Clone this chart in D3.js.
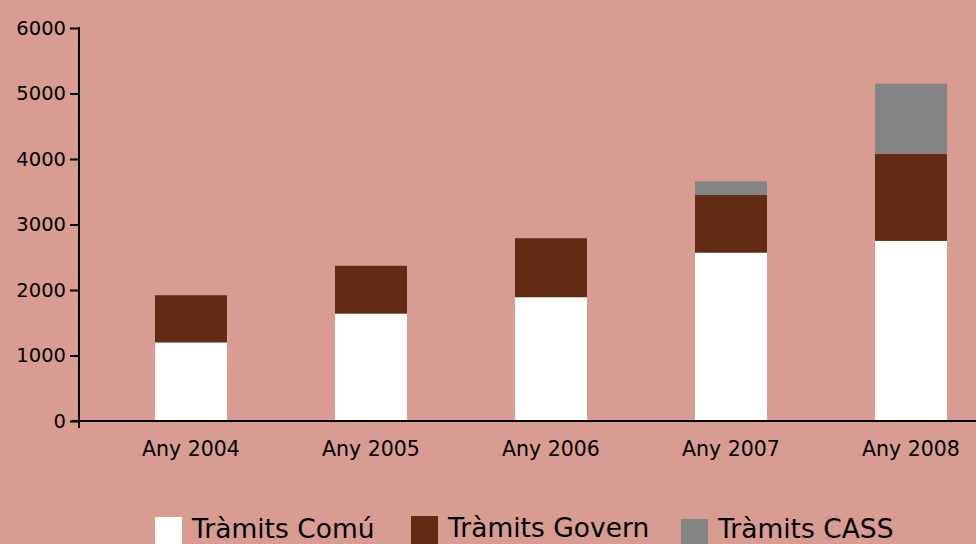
<!DOCTYPE html>
<html>
<head>
<meta charset="utf-8">
<script src="https://cdn.jsdelivr.net/npm/d3@7.9.0/dist/d3.min.js"></script>
<style>
  html, body { margin: 0; padding: 0; background: #d89c92; }
  svg { display: block; font-family: "DejaVu Sans", Verdana, sans-serif; }
</style>
</head>
<body>
<svg id="chart" width="976" height="544"></svg>
<script>
// --- data ---
const years = ['Any 2004', 'Any 2005', 'Any 2006', 'Any 2007', 'Any 2008'];
const comu   = [1200, 1640, 1890, 2570, 2750];
const govern = [720, 730, 900, 880, 1330];
const cass   = [0, 0, 0, 210, 1070];
const seriesNames  = ['Tràmits Comú', 'Tràmits Govern', 'Tràmits CASS'];
const seriesColors = ['#ffffff', '#622c14', '#848484'];
const yTicks = [0, 1000, 2000, 3000, 4000, 5000, 6000];

const svg = d3.select('#chart');
svg.append('rect').attr('width', 976).attr('height', 544).attr('fill', '#d89c92');

const x = d3.scaleBand()
  .domain(years)
  .range([101, 1001])
  .paddingInner(0.6)
  .paddingOuter(0.3);

const y = d3.scaleLinear().domain([0, 6000]).range([421, 28]);

// build rows for stacking
const rows = years.map((yr, i) => ({ year: yr, s0: comu[i], s1: govern[i], s2: cass[i] }));
const stack = d3.stack().keys(['s0', 's1', 's2'])(rows);

svg.append('g')
  .selectAll('g')
  .data(stack)
  .join('g')
  .attr('fill', (d, i) => seriesColors[i])
  .selectAll('rect')
  .data(d => d.filter(p => p[1] > p[0]))
  .join('rect')
  .attr('x', d => x(d.data.year))
  .attr('width', x.bandwidth())
  .attr('y', d => y(d[1]))
  .attr('height', d => y(d[0]) - y(d[1]));

// y axis
const yAxis = svg.append('g')
  .attr('transform', 'translate(79,0)')
  .call(d3.axisLeft(y).tickValues(yTicks).tickFormat(d3.format('d')).tickSize(9).tickPadding(4));
yAxis.select('.domain').remove();
yAxis.selectAll('.tick line').attr('stroke', '#000').attr('stroke-width', 2);
yAxis.selectAll('.tick text')
  .attr('fill', '#000')
  .style('font-size', '19.5px')
  .style('font-family', '"DejaVu Sans", Verdana, sans-serif');

svg.append('line')
  .attr('x1', 79).attr('x2', 79)
  .attr('y1', y(6000) - 1).attr('y2', 428)
  .attr('stroke', '#000').attr('stroke-width', 2);

// x axis
const xAxis = svg.append('g')
  .attr('transform', 'translate(0,421)')
  .call(d3.axisBottom(x).tickSize(0).tickPadding(20));
xAxis.select('.domain').remove();
xAxis.selectAll('.tick text')
  .attr('fill', '#000')
  .style('font-size', '20.5px')
  .style('font-family', '"DejaVu Sans", Verdana, sans-serif');

svg.append('line')
  .attr('x1', 72).attr('x2', 976)
  .attr('y1', 421).attr('y2', 421)
  .attr('stroke', '#000').attr('stroke-width', 2);

// legend
const legendX = [155, 411, 681];
const legendY = [517, 516, 517];
const legend = svg.append('g')
  .selectAll('g')
  .data(seriesNames)
  .join('g')
  .attr('transform', (d, i) => `translate(${legendX[i]},${legendY[i]})`);

legend.append('rect')
  .attr('width', 27).attr('height', 30)
  .attr('y', (d, i) => i === 2 ? 2 : 0)
  .attr('fill', (d, i) => seriesColors[i]);

legend.append('text')
  .attr('x', 37)
  .attr('y', 21)
  .attr('fill', '#000')
  .style('font-size', '26.5px')
  .text(d => d);
</script>
</body>
</html>
